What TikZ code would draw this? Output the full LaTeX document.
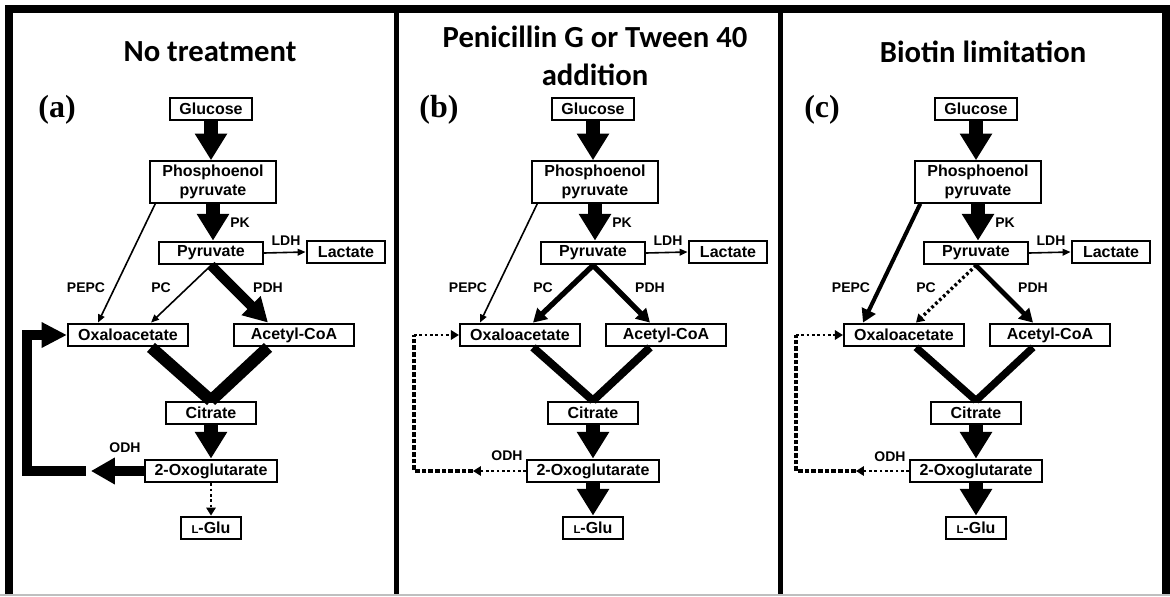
\documentclass[tikz,border=0pt]{standalone}
\usepackage{fontspec}
\setmainfont{Liberation Sans}
\newfontfamily\titlefont{Carlito}
\newfontfamily\tagfont{Liberation Serif}
\usetikzlibrary{arrows.meta, calc, positioning}

\tikzstyle{box}       = [draw, line width=1.6pt, inner sep=0pt, align=center, minimum height=17pt, font=\bfseries\fontsize{12}{14.3}\selectfont]
\tikzstyle{enzyme}    = [inner sep=0pt, font=\bfseries\fontsize{10.5}{12}\selectfont]
\tikzstyle{tag}       = [inner sep=0pt, font=\tagfont\bfseries\fontsize{24}{24}\selectfont]
\tikzstyle{heading}   = [inner sep=0pt, align=center, font=\titlefont\bfseries\fontsize{23}{28.5}\selectfont]
\tikzstyle{bigarrow}  = [line width=10pt, -{Triangle[width=23pt,length=20pt]}]
\tikzstyle{fatarrow}  = [line width=7.5pt, -{Triangle[width=19pt,length=18pt]}]
\tikzstyle{midarrow}  = [line width=3.5pt, -{Triangle[width=11pt,length=10pt]}]
\tikzstyle{thinarrow} = [line width=1.2pt, -{Triangle[width=5pt,length=6pt]}]
\tikzstyle{dotarrow}  = [line width=2pt, dotted, -{Triangle[width=7pt,length=6pt]}]
\tikzstyle{fatline}   = [line width=9pt]
\tikzstyle{loopline}  = [line width=7pt, -{Triangle[width=18pt,length=19pt]}]
\tikzstyle{dashline}  = [line width=3pt, dash pattern=on 3.5pt off 1.5pt]

\begin{document}
\begin{tikzpicture}[x=0.75pt, y=-0.75pt]

    \useasboundingbox (0,0) rectangle (1170,596);
    \fill[white] (0,0) rectangle (1170,596);

    % Rahmen
    \draw[line width=6pt] (9,596) -- (9,9) -- (1166,9) -- (1166,596);
    \draw[line width=3.75pt] (396,9) -- (396,596);
    \draw[line width=3.75pt] (780,9) -- (780,596);
    \draw[gray!50, line width=1.5pt] (0,595) -- (1170,595);

    % Ueberschriften
    \node[heading] (title-a) at (210,52) {No treatment};
    \node[heading] (title-b) at (595,56) {Penicillin G or Tween 40\\addition};
    \node[heading] (title-c) at (983,52) {Biotin limitation};

    % Knoten der drei Teilbilder
    \foreach \p/\dx/\ox/\ax/\oy in {a/0/128/294/448, b/382/138/284/456, c/765/139/285/457} {
        \node[tag] (tag-\p) at (\dx+57,110) {(\p)};

        \node[box, minimum width=61pt] (glc-\p) at (\dx+211,109) {Glucose};
        \node[box, minimum width=94pt, minimum height=31pt] (pep-\p) at (\dx+213,182)
            {Phosphoenol\\pyruvate};
        \node[box, minimum width=78pt] (pyr-\p) at (\dx+211,253) {Pyruvate};
        \node[box, minimum width=59pt] (lac-\p) at (\dx+346,252) {Lactate};
        \node[box, minimum width=90pt] (oaa-\p) at (\dx+\ox,335) {Oxaloacetate};
        \node[box, minimum width=90pt] (acoa-\p) at (\dx+\ax,335) {Acetyl-CoA};
        \node[box, minimum width=68pt] (cit-\p) at (\dx+211,413) {Citrate};
        \node[box, minimum width=99pt] (og-\p) at (\dx+211,471) {2-Oxoglutarate};
        \node[box, minimum width=45pt] (glu-\p) at (\dx+211,528)
            {{\fontsize{8.5}{8.5}\selectfont L}-Glu};

        \node[enzyme] (pk-\p) at (\dx+240,223) {PK};
        \node[enzyme] (ldh-\p) at (\dx+286,241) {LDH};
        \node[enzyme] (pepc-\p) at (\dx+86,288) {PEPC};
        \node[enzyme] (pc-\p) at (\dx+161,288) {PC};
        \node[enzyme] (pdh-\p) at (\dx+268,288) {PDH};
        \node[enzyme] (odh-\p) at (\dx+125,\oy) {ODH};
    }

    % gemeinsame Pfeile
    \foreach \p in {a,b,c} {
        \draw[bigarrow] (glc-\p.south) -- (glc-\p.south |- pep-\p.north);
        \draw[bigarrow] (pep-\p.south) -- (pep-\p.south |- pyr-\p.north);
        \draw[bigarrow] (cit-\p.south) -- (cit-\p.south |- og-\p.north);
        \draw[thinarrow] (pyr-\p.east) -- (lac-\p.west);
    }

    % (a) ohne Behandlung
    \draw[thinarrow] ($(pep-a.south west)+(6,0)$) -- ($(oaa-a.north)+(-30,0)$);
    \draw[thinarrow] (pyr-a.south) -- ($(oaa-a.north)+(23,0)$);
    \draw[fatarrow] (pyr-a.south) -- ($(acoa-a.north)+(-26,0)$);
    \draw[fatline] ($(oaa-a.south)+(23,0)$) -- (cit-a.north);
    \draw[fatline] ($(acoa-a.south)+(-26,0)$) -- (cit-a.north);
    \draw[dotarrow] (og-a.south) -- (og-a.south |- glu-a.north);
    \draw[fatarrow] (og-a.west) -- ++(-53,0) coordinate (back-a);
    \draw[loopline] ($(back-a)+(-5,0)$) -| ($(oaa-a.west)+(-40,0)$) -- (oaa-a.west);

    % (b) Penicillin G / Tween 40
    \draw[thinarrow] ($(pep-b.south west)+(6,0)$) -- ($(oaa-b.north)+(-40,0)$);
    \draw[midarrow, line width=4pt] (pyr-b.south) -- ($(oaa-b.north)+(13,0)$);
    \draw[midarrow, line width=4pt] (pyr-b.south) -- ($(acoa-b.north)+(-16,0)$);
    \draw[fatline, line width=6pt] ($(oaa-b.south)+(13,0)$) -- (cit-b.north);
    \draw[fatline, line width=6pt] ($(acoa-b.south)+(-16,0)$) -- (cit-b.north);
    \draw[bigarrow] (og-b.south) -- (og-b.south |- glu-b.north);
    \draw[dotarrow] (og-b.west) -- ++(-53,0) coordinate (back-b);
    \draw[dashline] (back-b) -| ($(oaa-b.west)+(-45,0)$) coordinate (top-b);
    \draw[dotarrow] (top-b) -- (oaa-b.west);

    % (c) Biotinmangel
    \draw[midarrow, line width=3pt] ($(pep-c.south west)+(6,0)$) -- ($(oaa-c.north)+(-41,0)$);
    \draw[dotarrow, line width=2.5pt] (pyr-c.south) -- ($(oaa-c.north)+(12,0)$);
    \draw[midarrow] (pyr-c.south) -- ($(acoa-c.north)+(-17,0)$);
    \draw[fatline, line width=5.5pt] ($(oaa-c.south)+(12,0)$) -- (cit-c.north);
    \draw[fatline, line width=5.5pt] ($(acoa-c.south)+(-17,0)$) -- (cit-c.north);
    \draw[bigarrow] (og-c.south) -- (og-c.south |- glu-c.north);
    \draw[dotarrow] (og-c.west) -- ++(-53,0) coordinate (back-c);
    \draw[dashline] (back-c) -| ($(oaa-c.west)+(-47,0)$) coordinate (top-c);
    \draw[dotarrow] (top-c) -- (oaa-c.west);

\end{tikzpicture}
\end{document}
